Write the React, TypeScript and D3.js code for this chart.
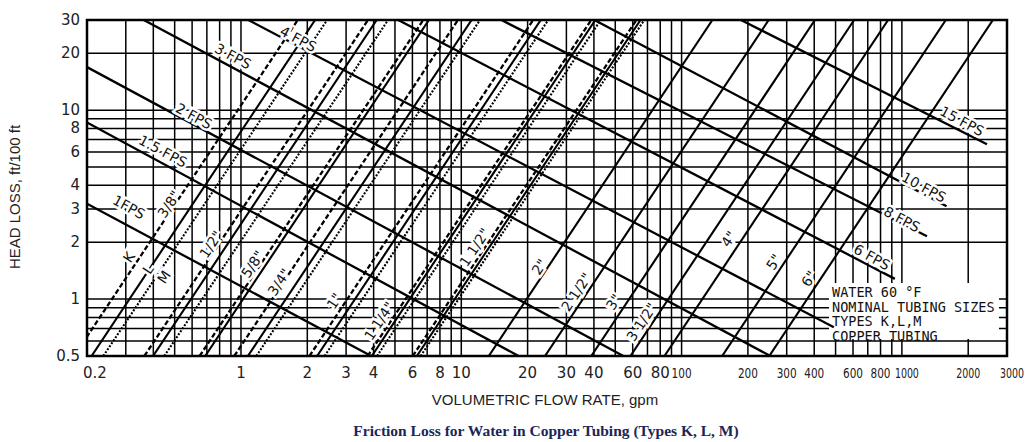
import React from 'react';
import * as d3 from 'd3';

const W = 1035;
const H = 442;

// axis ticks
const xTicks = [0.2, 1, 2, 3, 4, 6, 8, 10, 20, 30, 40, 60, 80, 100, 200, 300, 400, 600, 800, 1000, 2000, 3000];
const yTicks = [0.5, 1, 2, 3, 4, 6, 8, 10, 20, 30];

// pipe size lines: flow (gpm) where each line crosses head loss 0.5 (bottom) and 30 (top)
const pipeSizes = ['3/8"', '1/2"', '5/8"', '3/4"', '1"', '1 1/4"', '1 1/2"', '2"', '2 1/2"', '3"', '3 1/2"', '4"', '5"', '6"'];
const typeKBottom = [0.1747, 0.3642, 0.649, 0.932, 2.045, 3.757, 6.02, null, null, null, null, null, null, null];
const typeKTop = [1.81, 3.77, 6.72, 9.66, 21.2, 38.9, 62.4, null, null, null, null, null, null, null];
const typeLBottom = [0.2098, 0.399, 0.688, 1.075, 2.216, 3.924, 6.285, 13.33, 23.99, 38.9, 58.6, 83.6, 152.8, 250];
const typeLTop = [2.17, 4.13, 7.13, 11.14, 22.95, 40.6, 65.1, 138, 248.5, 403, 607, 866, 1583, 2589];
const typeMBottom = [0.2372, 0.4487, null, 1.174, 2.397, 4.146, 6.54, null, null, null, null, null, null, null];
const typeMTop = [2.46, 4.65, null, 12.16, 24.8, 42.9, 67.7, null, null, null, null, null, null, null];
// label centres [gpm, ft/100ft]
const pipeLabelPos = [[0.471, 3.18], [0.73, 1.95], [1.13, 1.53], [1.49, 1.23], [2.65, 0.976], [4.24, 0.765], [11.5, 1.88], [22.6, 1.48], [33.3, 1.09], [49.1, 0.964], [65.8, 0.756], [163.6, 2.08], [262, 1.57], [378, 1.28]];
const typeLabels = ['K', 'L', 'M'];
const typeLabelPos = [[0.31, 1.67], [0.378, 1.44], [0.447, 1.31]];

// velocity lines
const velocityLabels = ['1FPS', '1.5 FPS', '2 FPS', '3 FPS', '4 FPS', '6 FPS', '8 FPS', '10 FPS', '15 FPS'];
const velocityStart = [[0.2, 3.2], [0.2, 8.6], [0.2, 16.9], [0.362, 30], [1.08, 30], [5.17, 30], [15.2, 30], [40.2, 30], [186, 30]];
const velocityEnd = [[3.9, 0.5], [18.2, 0.5], [54.4, 0.5], [253, 0.5], [491, 0.71], [929, 1.28], [1300, 2.15], [1595, 3.1], [2433, 6.6]];
const velocityLabelPos = [[0.31, 3.07], [0.442, 6.07], [0.611, 9.3], [0.92, 19.3], [1.82, 23.8], [731, 1.67], [1000, 2.65], [1259, 3.91], [1875, 8.75]];

const noteLines = ['WATER 60 °F', 'NOMINAL TUBING SIZES', 'TYPES K,L,M', 'COPPER TUBING'];

export default function App() {
  const x = d3.scaleLog().domain([0.2, 3000]).range([87, 1007]);
  const y = d3.scaleLog().domain([0.5, 30]).range([356, 20]);
  const [x0, x1] = x.range();
  const [y0, y1] = y.range();

  const gridX: number[] = [];
  [0.1, 1, 10, 100, 1000].forEach((d) => {
    for (let m = 1; m <= 9; m++) {
      const v = +(d * m).toPrecision(3);
      if (v >= 0.2 && v <= 3000) gridX.push(v);
    }
  });
  const gridY: number[] = [];
  [0.1, 1, 10].forEach((d) => {
    for (let m = 1; m <= 9; m++) {
      const v = +(d * m).toPrecision(3);
      if (v >= 0.5 && v <= 30) gridY.push(v);
    }
  });

  const line = d3.line<[number, number]>().x((d) => x(d[0])).y((d) => y(d[1]));

  const pipeAngle = (Math.atan2(y(30) - y(0.5), x(typeLTop[7]) - x(typeLBottom[7])) * 180) / Math.PI;
  const velAngle = (Math.atan2(y(velocityEnd[3][1]) - y(velocityStart[3][1]), x(velocityEnd[3][0]) - x(velocityStart[3][0])) * 180) / Math.PI;

  const pipeLines: { b: number; t: number; kind: string }[] = [];
  pipeSizes.forEach((_, i) => {
    if (typeKBottom[i] != null) pipeLines.push({ b: typeKBottom[i] as number, t: typeKTop[i] as number, kind: 'K' });
    pipeLines.push({ b: typeLBottom[i], t: typeLTop[i], kind: 'L' });
    if (typeMBottom[i] != null) pipeLines.push({ b: typeMBottom[i] as number, t: typeMTop[i] as number, kind: 'M' });
  });

  const dash: Record<string, string | undefined> = { K: '5,2.5', L: undefined, M: '2,1.6' };
  const width: Record<string, number> = { K: 2.3, L: 2.1, M: 2.1 };

  const labelFont = "'DejaVu Sans', sans-serif";
  const tickDx: Record<string, number> = { '0.2': 8, '1000': 5, '3000': 5 };

  return (
    <svg width={W} height={H} style={{ position: 'absolute', left: 0, top: 0, background: '#fff' }} fontFamily={labelFont}>
      <defs>
        <clipPath id="plot">
          <rect x={x0} y={y1} width={x1 - x0} height={y0 - y1} />
        </clipPath>
      </defs>
      <rect width={W} height={H} fill="#fff" />
      {/* grid */}
      <g stroke="#000" strokeWidth={1.5}>
        {gridX.map((v) => (
          <line key={'gx' + v} x1={x(v)} x2={x(v)} y1={y1} y2={y0} />
        ))}
        {gridY.map((v) => (
          <line key={'gy' + v} x1={x0} x2={x1} y1={y(v)} y2={y(v)} />
        ))}
      </g>
      {/* note box background */}
      <rect x={829} y={283} width={170} height={56} fill="#fff" />
      <g clipPath="url(#plot)" fill="none" stroke="#000">
        {pipeLines.map((p, i) => (
          <path key={'p' + i} d={line([[p.b, 0.5], [p.t, 30]]) as string} strokeWidth={width[p.kind]} strokeDasharray={dash[p.kind]} />
        ))}
        {velocityLabels.map((_, i) => (
          <path key={'v' + i} d={line([velocityStart[i] as [number, number], velocityEnd[i] as [number, number]]) as string} strokeWidth={2.3} />
        ))}
      </g>
      {/* line labels */}
      <g fontSize={14} fill="#111" stroke="#fff" strokeWidth={5} paintOrder="stroke" textAnchor="middle" dominantBaseline="central">
        {velocityLabels.map((t, i) => (
          <text key={'vl' + i} transform={`translate(${x(velocityLabelPos[i][0])},${y(velocityLabelPos[i][1])}) rotate(${velAngle})`}>
            {t}
          </text>
        ))}
        {pipeSizes.map((t, i) => (
          <text key={'pl' + i} transform={`translate(${x(pipeLabelPos[i][0])},${y(pipeLabelPos[i][1])}) rotate(${pipeAngle})`}>
            {t}
          </text>
        ))}
        {typeLabels.map((t, i) => (
          <text key={'tl' + i} transform={`translate(${x(typeLabelPos[i][0])},${y(typeLabelPos[i][1])}) rotate(${pipeAngle})`}>
            {t}
          </text>
        ))}
      </g>
      {/* note */}
      <g fontFamily="'DejaVu Sans Mono', monospace" fontSize={13.5} fill="#111">
        {noteLines.map((t, i) => (
          <text key={'n' + i} x={832} y={297 + i * 14.5}>
            {t}
          </text>
        ))}
      </g>
      {/* frame */}
      <rect x={x0} y={y1} width={x1 - x0} height={y0 - y1} fill="none" stroke="#000" strokeWidth={2.5} />
      {/* y ticks */}
      <g fontSize={15} fill="#222" textAnchor="end" dominantBaseline="central">
        {yTicks.map((v) => (
          <text key={'yt' + v} x={x0 - 7} y={y(v)}>
            {v}
          </text>
        ))}
      </g>
      {/* x ticks */}
      <g fill="#222" textAnchor="middle">
        {xTicks.map((v) => {
          const s = String(v);
          const narrow = v >= 100;
          return (
            <text
              key={'xt' + v}
              x={x(v) + (tickDx[s] || 0)}
              y={378}
              fontSize={narrow ? 14 : 15}
              textLength={narrow ? (s.length === 3 ? 20 : 24) : undefined}
              lengthAdjust={narrow ? 'spacingAndGlyphs' : undefined}
            >
              {s}
            </text>
          );
        })}
      </g>
      <text x={545} y={405} textAnchor="middle" fontFamily="'Liberation Sans', Arial, sans-serif" fontSize={15} fill="#222">
        VOLUMETRIC FLOW RATE, gpm
      </text>
      <text transform="translate(20,197) rotate(-90)" textAnchor="middle" fontFamily="'Liberation Sans', Arial, sans-serif" fontSize={15} fill="#222">
        HEAD LOSS, ft/100 ft
      </text>
      <text x={546} y={436} textAnchor="middle" fontFamily="'Liberation Serif', 'Times New Roman', serif" fontWeight="bold" fontSize={15.5} fill="#1c2659">
        Friction Loss for Water in Copper Tubing (Types K, L, M)
      </text>
    </svg>
  );
}
